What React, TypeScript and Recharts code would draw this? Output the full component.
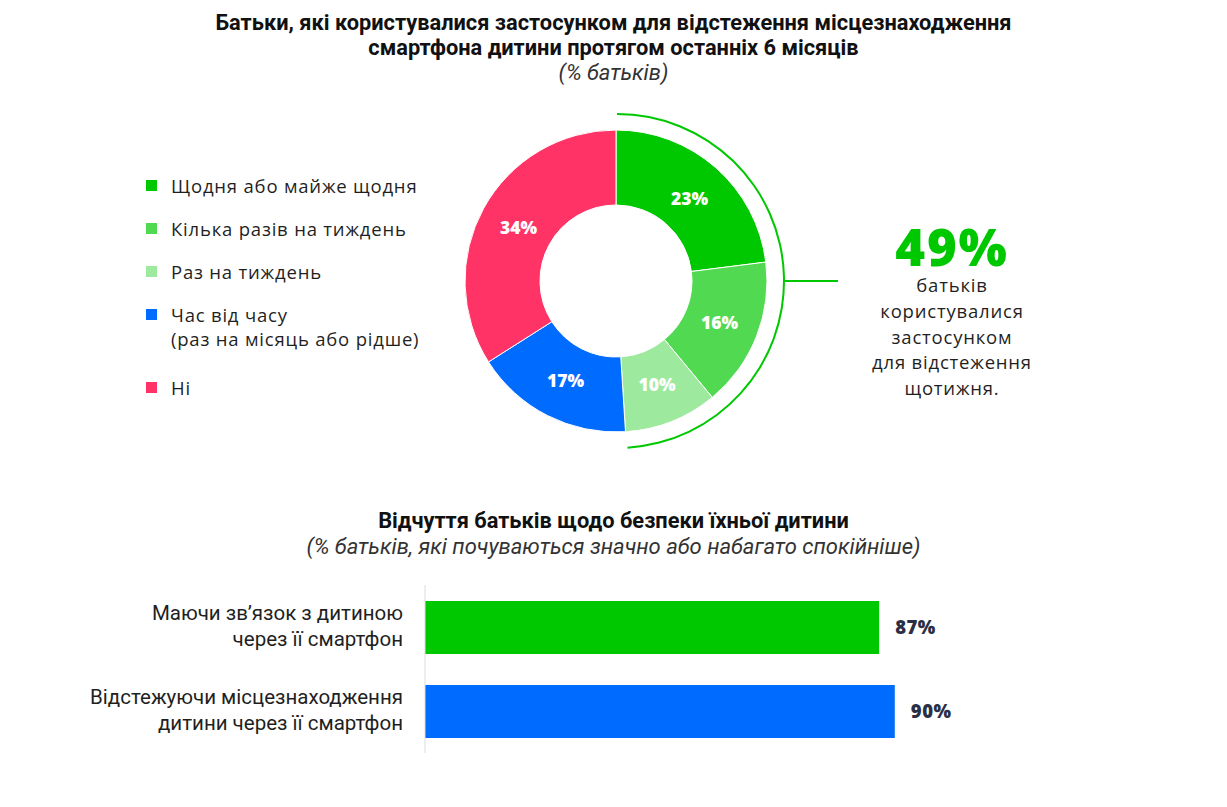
import React from 'react';
import { PieChart, Pie, Cell, Legend, BarChart, Bar, XAxis, YAxis, LabelList } from 'recharts';

// Частота користування застосунком (% батьків)
const usageNames = [
  'Щодня або майже щодня',
  'Кілька разів на тиждень',
  'Раз на тиждень',
  'Час від часу\n(раз на місяць або рідше)',
  'Ні',
];
const usageValues = [23, 16, 10, 17, 34];
const usageColors = ['#00C800', '#52D952', '#9DE99D', '#006CFF', '#FF3366'];

// Частка тих, хто користується щотижня
const weeklyShare = 49;

// Відчуття безпеки
const safetyLabels = [
  'Маючи зв\u2019язок з дитиною\nчерез її смартфон',
  'Відстежуючи місцезнаходження\nдитини через її смартфон',
];
const safetyValues = [87, 90];
const safetyColors = ['#00C800', '#006CFF'];

const usageData = usageNames.map((name, i) => ({ name, value: usageValues[i] }));
const weeklyArc = [
  { name: 'weekly', value: weeklyShare },
  { name: 'rest', value: 100 - weeklyShare },
];
const safetyData = safetyLabels.map((label, i) => ({ label, value: safetyValues[i] }));

const GREEN = '#00C800';
const TEXT = '#1f1f1f';
const RADIAN = Math.PI / 180;
const titleFont = 'Roboto, "Liberation Sans", sans-serif';
const bodyFont = '"Open Sans", "Noto Sans", sans-serif';

const renderPieLabel = (props: any) => {
  const { cx, cy, midAngle, innerRadius, outerRadius, value } = props;
  const r = innerRadius + (outerRadius - innerRadius) * 0.47;
  const x = cx + r * Math.cos(-midAngle * RADIAN);
  const y = cy + r * Math.sin(-midAngle * RADIAN);
  return (
    <text
      x={x}
      y={y}
      fill="#fff"
      textAnchor="middle"
      dominantBaseline="central"
      style={{ fontFamily: bodyFont, fontWeight: 800, fontSize: 17.5 }}
    >
      {`${value}%`}
    </text>
  );
};

// легенда в порядку даних (Recharts сортує payload за назвою)
const renderLegend = (props: any) => {
  const payload = (props.payload || []).filter((p: any) => p.type !== 'none');
  const colorOf = (name: string, i: number) =>
    payload.find((p: any) => p.value === name)?.color ?? usageColors[i];
  return (
    <div style={{ fontFamily: bodyFont, fontSize: 18.5, letterSpacing: 0.8, color: TEXT }}>
      {usageNames.map((name, i) => {
        const multiline = name.includes('\n');
        return (
          <div
            key={i}
            style={{
              display: 'flex',
              alignItems: 'flex-start',
              lineHeight: '24px',
              marginBottom: multiline ? 25 : 19,
            }}
          >
            <span
              style={{
                width: 11,
                height: 11,
                background: colorOf(name, i),
                marginTop: 6,
                marginRight: 14,
                flex: 'none',
              }}
            />
            <span style={{ whiteSpace: 'pre-line' }}>{name}</span>
          </div>
        );
      })}
    </div>
  );
};

const renderSafetyTick = (props: any) => {
  const { x, y, payload } = props;
  const lines = String(payload.value).split('\n');
  return (
    <text
      x={x}
      y={y}
      textAnchor="end"
      fill={TEXT}
      style={{ fontFamily: titleFont, fontSize: 20.5, fontWeight: 400 }}
    >
      {lines.map((line, i) => (
        <tspan key={i} x={x - 14} dy={i === 0 ? -7 : 26}>
          {line}
        </tspan>
      ))}
    </text>
  );
};

const titleStyle: React.CSSProperties = {
  position: 'absolute',
  left: 0,
  width: 1227,
  textAlign: 'center',
  fontFamily: titleFont,
  fontWeight: 700,
  fontSize: 21.8,
  lineHeight: '25px',
  color: '#111',
};

const subtitleStyle: React.CSSProperties = {
  position: 'absolute',
  left: 0,
  width: 1227,
  textAlign: 'center',
  fontFamily: titleFont,
  fontStyle: 'italic',
  fontWeight: 400,
  fontSize: 22,
  lineHeight: '26px',
  color: '#333',
};

export default function App() {
  return (
    <div
      style={{
        position: 'absolute',
        left: 0,
        top: 0,
        width: 1227,
        height: 807,
        background: '#fff',
        overflow: 'hidden',
      }}
    >
      {/* заголовок верхнього графіка */}
      <div style={{ ...titleStyle, top: 10 }}>
        Батьки, які користувалися застосунком для відстеження місцезнаходження
        <br />
        смартфона дитини протягом останніх 6 місяців
      </div>
      <div style={{ ...subtitleStyle, top: 60 }}>(% батьків)</div>

      <PieChart
        width={1227}
        height={480}
        margin={{ top: 0, right: 0, bottom: 0, left: 0 }}
        style={{ position: 'absolute', left: 0, top: 0 }}
      >
        <Pie
          data={usageData}
          dataKey="value"
          nameKey="name"
          cx={616}
          cy={281}
          innerRadius={76}
          outerRadius={151}
          startAngle={90}
          endAngle={-270}
          stroke="#fff"
          strokeWidth={1}
          label={renderPieLabel}
          labelLine={false}
          isAnimationActive={false}
        >
          {usageData.map((_, i) => (
            <Cell key={i} fill={usageColors[i]} />
          ))}
        </Pie>
        {/* дуга над сегментами "щотижня" */}
        <Pie
          data={weeklyArc}
          dataKey="value"
          cx={617}
          cy={281}
          innerRadius={166}
          outerRadius={168}
          startAngle={90}
          endAngle={-270}
          stroke="none"
          legendType="none"
          isAnimationActive={false}
        >
          <Cell fill={GREEN} />
          <Cell fill="transparent" />
        </Pie>
        <Legend
          layout="horizontal"
          verticalAlign="middle"
          align="center"
          content={renderLegend}
          wrapperStyle={{ left: 146, top: 174, width: 330, height: 'auto' }}
        />
      </PieChart>

      {/* виноска 49% */}
      <div
        style={{
          position: 'absolute',
          left: 785,
          top: 280,
          width: 53,
          height: 2,
          background: GREEN,
        }}
      />
      <div
        style={{
          position: 'absolute',
          left: 852,
          top: 220,
          width: 200,
          textAlign: 'center',
          fontFamily: bodyFont,
          color: TEXT,
        }}
      >
        <div
          style={{
            color: GREEN,
            fontWeight: 800,
            fontSize: 51,
            letterSpacing: 1.8,
            lineHeight: '52px',
          }}
        >
          {`${weeklyShare}%`}
        </div>
        <div style={{ fontSize: 18.5, letterSpacing: 0.8, lineHeight: '25.8px' }}>
          батьків
          <br />
          користувалися
          <br />
          застосунком
          <br />
          для відстеження
          <br />
          щотижня.
        </div>
      </div>

      {/* заголовок нижнього графіка */}
      <div style={{ ...titleStyle, top: 508 }}>Відчуття батьків щодо безпеки їхньої дитини</div>
      <div style={{ ...subtitleStyle, top: 534 }}>
        (% батьків, які почуваються значно або набагато спокійніше)
      </div>

      <BarChart
        layout="vertical"
        width={1227}
        height={200}
        data={safetyData}
        margin={{ top: 15, right: 280, left: 0, bottom: 17 }}
        style={{ position: 'absolute', left: 0, top: 570 }}
      >
        <XAxis type="number" domain={[0, 100]} hide />
        <YAxis
          type="category"
          dataKey="label"
          width={425}
          axisLine={{ stroke: '#dcdcdc' }}
          tickLine={false}
          tick={renderSafetyTick}
        />
        <Bar dataKey="value" barSize={53} isAnimationActive={false}>
          {safetyData.map((_, i) => (
            <Cell key={i} fill={safetyColors[i]} />
          ))}
          <LabelList
            dataKey="value"
            position="right"
            offset={16}
            formatter={(v: any) => `${v}%`}
            style={{
              fontFamily: bodyFont,
              fontWeight: 800,
              fontSize: 18.5,
              letterSpacing: 0.5,
              fill: '#2a2f45',
            }}
          />
        </Bar>
      </BarChart>
    </div>
  );
}
